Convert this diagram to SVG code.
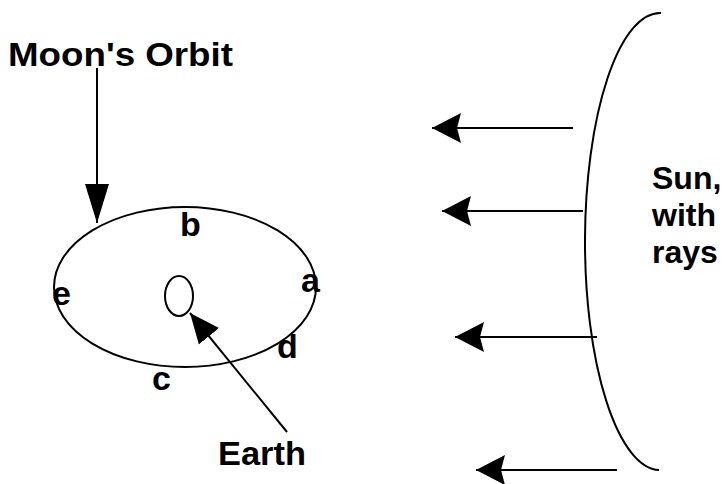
<svg xmlns="http://www.w3.org/2000/svg" width="727" height="484" viewBox="0 0 727 484">
<defs>
<style>
.t{font-family:"Liberation Sans",Arial,sans-serif;font-weight:bold;font-size:34px;fill:#000}
.s{font-size:32px}
.l{stroke:#000;stroke-width:2;fill:none}
</style>
<marker id="ray" markerUnits="userSpaceOnUse" markerWidth="30" markerHeight="32" refX="29" refY="15" orient="auto" viewBox="0 0 30 30"><path d="M0,0 L29,15 L0,30 L4,15 Z" fill="#000"/></marker>
<marker id="long" markerUnits="userSpaceOnUse" markerWidth="40" markerHeight="26" refX="39" refY="12" orient="auto" viewBox="0 0 40 24"><path d="M0,0 L39,12 L0,24 Z" fill="#000"/></marker>
<marker id="mid" markerUnits="userSpaceOnUse" markerWidth="31" markerHeight="28" refX="30" refY="13" orient="auto" viewBox="0 0 31 26"><path d="M0,0 L30,13 L0,26 Z" fill="#000"/></marker>
</defs>
<rect width="727" height="484" fill="#fff"/>
<g id="orbit"><ellipse class="l" cx="185" cy="287" rx="131" ry="80"/></g>
<g id="earth"><ellipse class="l" cx="179" cy="296" rx="14" ry="20"/></g>
<g id="sun"><path class="l" d="M661 13 A75 228.5 0 0 0 659 470"/></g>
<g id="labels">
<text class="t" x="8" y="66" textLength="225" lengthAdjust="spacingAndGlyphs">Moon's Orbit</text>
<text class="t" x="180" y="236">b</text>
<text class="t" x="301" y="292">a</text>
<text class="t" x="52" y="305">e</text>
<text class="t" x="277" y="358">d</text>
<text class="t" x="152" y="390">c</text>
<text class="t" x="218" y="465" textLength="88" lengthAdjust="spacingAndGlyphs">Earth</text>
<text class="t s" x="652" y="189">Sun,</text>
<text class="t s" x="652" y="226">with</text>
<text class="t s" x="652" y="263">rays</text>
</g>
<g id="connectors">
<line class="l" x1="97" y1="68" x2="97" y2="223" marker-end="url(#long)"/>
<line class="l" x1="287" y1="432" x2="190" y2="313" marker-end="url(#mid)"/>
<line class="l" x1="573" y1="128" x2="432" y2="128" marker-end="url(#ray)"/>
<line class="l" x1="583" y1="211" x2="442" y2="211" marker-end="url(#ray)"/>
<line class="l" x1="597" y1="337" x2="455" y2="337" marker-end="url(#ray)"/>
<line class="l" x1="617" y1="470" x2="476" y2="470" marker-end="url(#ray)"/>
</g>
</svg>
